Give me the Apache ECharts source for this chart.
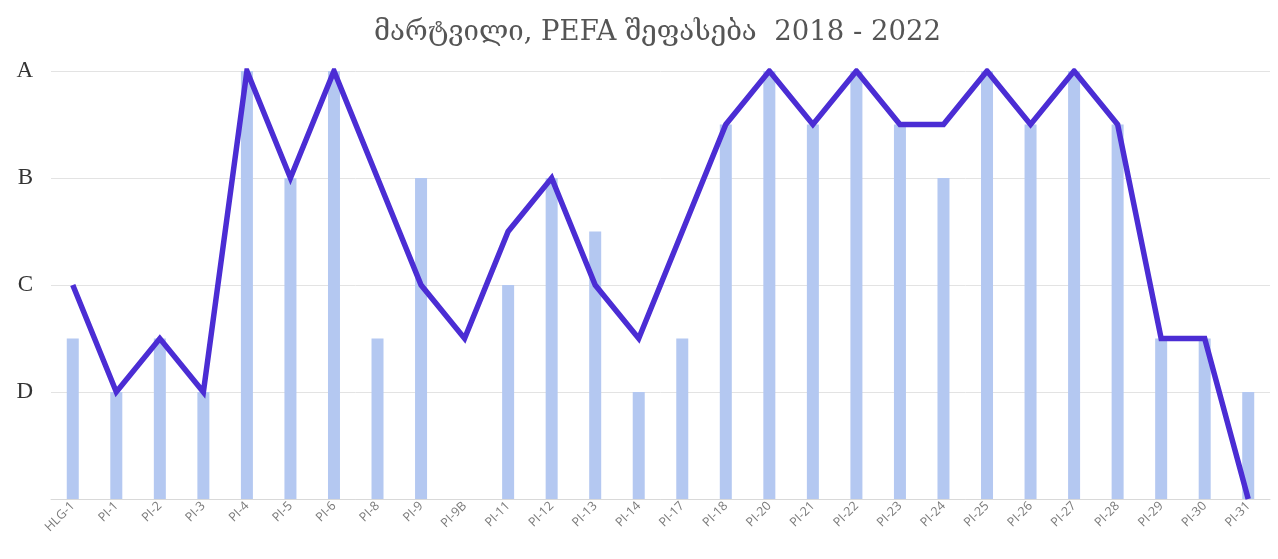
<!DOCTYPE html>
<html>
<head>
<meta charset="utf-8">
<script src="https://cdn.jsdelivr.net/npm/echarts@6/dist/echarts.min.js"></script>
<style>
  html, body { margin: 0; padding: 0; background: #fff; }
  #chart { width: 1278px; height: 559px; }
</style>
</head>
<body>
<div id="chart"></div>
<script>
// PEFA indicator codes
const categories = ['HLG-1', 'PI-1', 'PI-2', 'PI-3', 'PI-4', 'PI-5', 'PI-6', 'PI-8', 'PI-9', 'PI-9B',
  'PI-11', 'PI-12', 'PI-13', 'PI-14', 'PI-17', 'PI-18', 'PI-20', 'PI-21', 'PI-22', 'PI-23',
  'PI-24', 'PI-25', 'PI-26', 'PI-27', 'PI-28', 'PI-29', 'PI-30', 'PI-31'];

// Scores on a 0..4 scale (D=1, C=2, B=3, A=4, "+" adds 0.5)
const barScores = [1.5, 1, 1.5, 1, 4, 3, 4, 1.5, 3, 0,
  2, 3, 2.5, 1, 1.5, 3.5, 4, 3.5, 4, 3.5,
  3, 4, 3.5, 4, 3.5, 1.5, 1.5, 1];
const lineScores = [2, 1, 1.5, 1, 4, 3, 4, 3, 2, 1.5,
  2.5, 3, 2, 1.5, 2.5, 3.5, 4, 3.5, 4, 3.5,
  3.5, 4, 3.5, 4, 3.5, 1.5, 1.5, 0];

// Letter grades shown on the value axis
const gradeLabels = ['', 'D', 'C', 'B', 'A'];

const serif = 'DejaVu Serif, Liberation Serif, serif';

const chart = echarts.init(document.getElementById('chart'));
chart.setOption({
  animation: false,
  title: {
    text: 'მარტვილი, PEFA შეფასება  2018 - 2022',
    left: 369,
    top: 14,
    textStyle: { fontFamily: serif, fontSize: 27.5, fontWeight: 'normal', color: '#555' }
  },
  grid: { left: 51, right: 8, top: 71, bottom: 60 },
  xAxis: {
    type: 'category',
    data: categories,
    axisLine: { lineStyle: { color: '#d9d9d9', width: 1 } },
    axisTick: { show: false },
    axisLabel: {
      rotate: 45,
      interval: 0,
      fontSize: 12.5,
      color: '#7a7a7a',
      fontFamily: 'Open Sans, Noto Sans, sans-serif',
      margin: 5
    }
  },
  yAxis: {
    type: 'value',
    min: 0,
    max: 4,
    interval: 1,
    axisLine: { show: false },
    axisTick: { show: false },
    splitLine: { lineStyle: { color: '#e3e3e3', width: 1 } },
    axisLabel: {
      formatter: v => gradeLabels[v] || '',
      fontFamily: 'Liberation Serif, DejaVu Serif, serif',
      fontSize: 23,
      color: '#333',
      margin: 18
    }
  },
  series: [
    {
      type: 'bar',
      data: barScores,
      barWidth: 12,
      itemStyle: { color: '#b4c8f1' },
      z: 1
    },
    {
      type: 'line',
      data: lineScores,
      symbol: 'none',
      lineStyle: { color: '#4b2dd4', width: 5.5, join: 'miter' },
      z: 2
    }
  ]
});
</script>
</body>
</html>
